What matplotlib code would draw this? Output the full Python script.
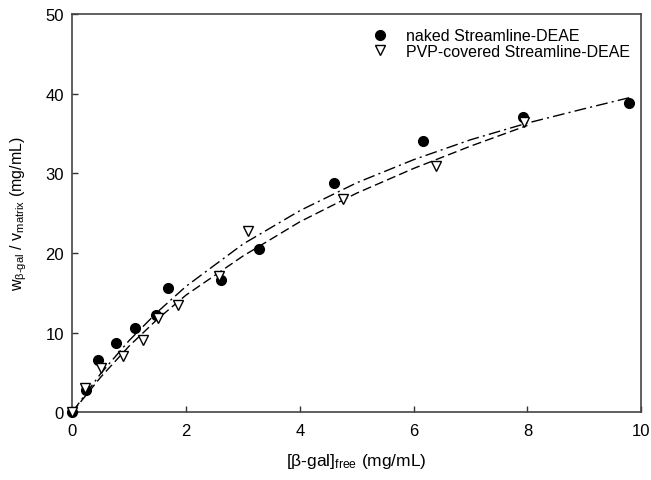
import matplotlib
matplotlib.use("Agg")
import matplotlib.pyplot as plt

plt.rcParams['font.family'] = ['Liberation Sans', 'DejaVu Sans']
plt.rcParams['mathtext.fontset'] = 'custom'
plt.rcParams['mathtext.rm'] = 'Liberation Sans'
plt.rcParams['mathtext.it'] = 'Liberation Sans:italic'

# measured points
naked_x = [0, 0.25, 0.45, 0.76, 1.10, 1.47, 1.68, 2.61, 3.28, 4.60, 6.17, 7.93, 9.78]
naked_y = [0, 2.8, 6.5, 8.7, 10.6, 12.2, 15.6, 16.6, 20.5, 28.8, 34.0, 37.0, 38.8]
pvp_x = [0, 0.22, 0.50, 0.90, 1.24, 1.51, 1.86, 2.58, 3.09, 4.76, 6.40, 7.94]
pvp_y = [0, 3.0, 5.5, 7.0, 9.0, 11.8, 13.4, 17.1, 22.8, 26.8, 30.9, 36.4]

# fitted curves
fit_naked_x = [0, 0.5, 1, 1.5, 2, 3, 4, 5, 6, 7, 8, 9, 9.8]
fit_naked_y = [0, 4.85, 9.0, 12.6, 15.8, 21.1, 25.3, 28.8, 31.7, 34.2, 36.3, 38.1, 39.5]
fit_pvp_x = [0, 0.5, 1, 1.5, 2, 3, 4, 5, 6, 7, 8]
fit_pvp_y = [0, 4.4, 8.3, 11.7, 14.7, 19.6, 23.9, 27.5, 30.6, 33.4, 36.0]

fig = plt.figure(figsize=(6.51, 4.81), dpi=100)
ax = fig.add_axes([0.111, 0.141, 0.874, 0.828])

ax.plot(fit_naked_x, fit_naked_y, color='black', lw=1.0, dashes=(8.5, 3, 1.5, 3))
ax.plot(fit_pvp_x, fit_pvp_y, color='black', lw=1.0, dashes=(6.5, 3))

ax.plot(naked_x, naked_y, 'o', color='black', ms=7, ls='none', clip_on=False,
        label='naked Streamline-DEAE', zorder=3)
ax.plot(pvp_x, pvp_y, 'v', mfc='white', mec='black', mew=1.0, ms=7.5, ls='none',
        clip_on=False, label='PVP-covered Streamline-DEAE', zorder=4)

ax.set_xlim(0, 10)
ax.set_ylim(0, 50)
ax.set_xticks([0, 2, 4, 6, 8, 10])
ax.set_yticks([0, 10, 20, 30, 40, 50])
ax.tick_params(direction='in', length=4, width=1, labelsize=12, colors='#333333',
               labelcolor='black')
ax.tick_params(axis='x', pad=8)
ax.tick_params(axis='y', pad=6)
for s in ax.spines.values():
    s.set_color('#444444')
    s.set_linewidth(1.2)

ax.set_xlabel(r'[β-gal]$_{\text{free}}$ (mg/mL)', fontsize=12.5, labelpad=9)
ax.set_ylabel(r'w$_{\text{β-gal}}$ / v$_{\text{matrix}}$ (mg/mL)', fontsize=11.5, labelpad=12)

ax.legend(loc='upper right', frameon=False, fontsize=11.5, handlelength=1.0,
          handletextpad=1.1, borderaxespad=0.5, labelspacing=0.05,
          bbox_to_anchor=(1.005, 1.0))

fig.savefig('out.png', dpi=100)
